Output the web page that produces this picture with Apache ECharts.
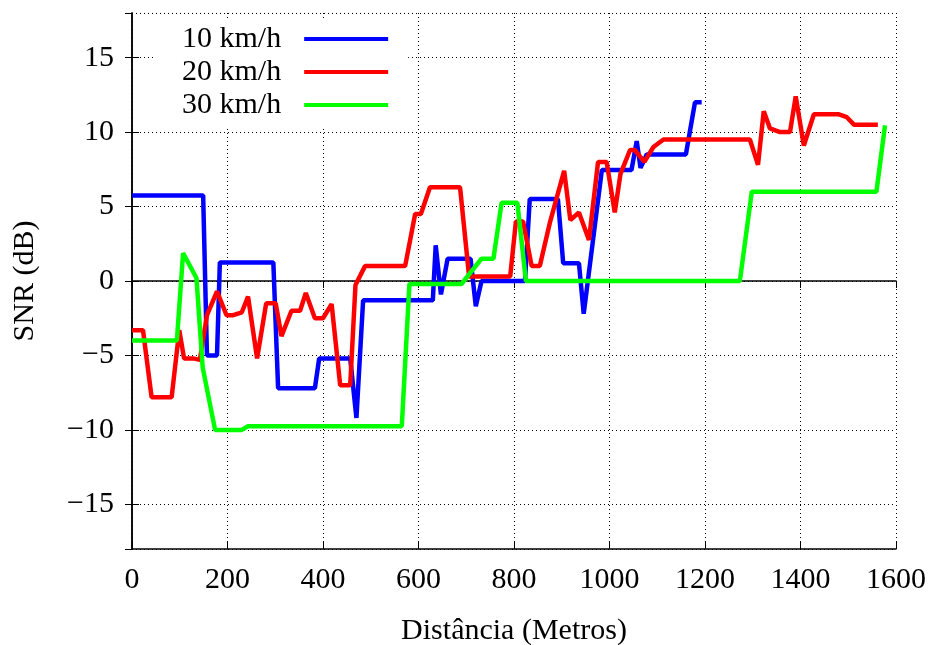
<!DOCTYPE html>
<html lang="pt">
<head>
    <meta charset="UTF-8">
    <title>SNR x distancia</title>
    <script src="https://cdn.jsdelivr.net/npm/echarts@6/dist/echarts.min.js"></script>
    <style>
        html, body { margin: 0; padding: 0; background: #fff; }
        #chart { width: 934px; height: 645px; }
    </style>
</head>
<body>
<div id="chart"></div>
<script type="application/javascript">
    // distancias (m) e SNR (dB) de cada velocidade
    var dist10 = [0, 149, 157, 178, 184, 296, 306, 383, 392, 457, 470, 484, 630, 636, 647, 661, 709, 720, 732, 823, 833, 892, 903, 936, 946, 984, 1046, 1057, 1065, 1078, 1160, 1179, 1193];
    var snr10 = [5.75, 5.75, -5.0, -5.0, 1.25, 1.25, -7.2, -7.2, -5.2, -5.2, -9.2, -1.3, -1.3, 2.4, -0.9, 1.5, 1.5, -1.7, 0, 0, 5.5, 5.5, 1.2, 1.2, -2.2, 7.45, 7.45, 9.4, 7.6, 8.5, 8.5, 12.0, 12.0];

    var dist20 = [0, 23, 41, 83, 99, 109, 128, 142, 157, 178, 198, 212, 230, 243, 262, 281, 301, 313, 334, 352, 364, 383, 400, 418, 436, 457, 468, 488, 572, 593, 605, 624, 687, 706, 792, 804, 819, 837, 854, 875, 905, 918, 936, 957, 976, 994, 1011, 1023, 1043, 1053, 1073, 1092, 1113, 1294, 1311, 1323, 1336, 1357, 1378, 1390, 1407, 1428, 1479, 1497, 1512, 1562];
    var snr20 = [-3.3, -3.3, -7.8, -7.8, -3.3, -5.2, -5.2, -5.3, -2.3, -0.7, -2.3, -2.3, -2.1, -1.05, -5.2, -1.5, -1.5, -3.7, -2.0, -2.0, -0.8, -2.5, -2.5, -1.55, -7.0, -7.0, -0.27, 1.0, 1.0, 4.5, 4.5, 6.3, 6.3, 0.3, 0.3, 4.0, 4.0, 1.0, 1.0, 3.9, 7.4, 4.1, 4.6, 2.75, 8.0, 8.0, 4.6, 7.2, 8.8, 8.8, 8.0, 9.0, 9.5, 9.5, 7.8, 11.4, 10.25, 10.0, 10.0, 12.4, 9.1, 11.2, 11.2, 11.0, 10.5, 10.5];

    var dist30 = [0, 94, 107, 135, 148, 174, 230, 243, 565, 581, 690, 732, 757, 774, 807, 825, 1273, 1298, 1559, 1577];
    var snr30 = [-4.0, -4.0, 1.87, 0.2, -5.8, -10.0, -10.0, -9.75, -9.75, -0.2, -0.2, 1.5, 1.5, 5.25, 5.25, 0, 0, 6.0, 6.0, 10.45];

    var seriesNames = ['10 km/h', '20 km/h', '30 km/h'];
    var seriesColors = ['#0000ff', '#ff0000', '#00ff00'];
    var yTicks = [-15, -10, -5, 0, 5, 10, 15];

    function pairs(xs, ys) {
        var out = [];
        for (var i = 0; i < xs.length; i++) {
            out.push([xs[i], ys[i]]);
        }
        return out;
    }

    var font = 'Liberation Serif';
    var fs = 30;
    var dotted = { show: true, lineStyle: { color: '#000', type: [1, 3], width: 1 } };

    var chart = echarts.init(document.getElementById('chart'));
    var lines = [[dist10, snr10], [dist20, snr20], [dist30, snr30]];
    var series = lines.map(function (d, i) {
        return {
            name: seriesNames[i],
            type: 'line',
            data: pairs(d[0], d[1]),
            showSymbol: false,
            symbol: 'none',
            lineStyle: { color: seriesColors[i], width: 4.5 },
            itemStyle: { color: seriesColors[i] },
            animation: false
        };
    });

    var option = {
        backgroundColor: '#fff',
        animation: false,
        grid: { left: 132, top: 13, right: 38, bottom: 96, containLabel: false, outerBoundsMode: 'none' },
        legend: {
            orient: 'vertical',
            left: 154,
            top: 20,
            align: 'right',
            icon: 'rect',
            itemWidth: 84,
            itemHeight: 4,
            itemGap: 3,
            padding: [4, 20, 6, 28],
            backgroundColor: '#fff',
            data: seriesNames,
            textStyle: { fontFamily: font, fontSize: fs, color: '#000', lineHeight: 30, padding: [0, 18, 0, 0] }
        },
        xAxis: [{
            type: 'value',
            min: 0, max: 1600, interval: 200,
            name: 'Distância (Metros)',
            nameLocation: 'middle',
            nameGap: 67,
            nameTextStyle: { fontFamily: font, fontSize: fs, color: '#000' },
            axisLine: { show: true, onZero: false, lineStyle: { color: '#000', width: 1.5 } },
            axisTick: { show: true, inside: true, length: 7, lineStyle: { color: '#000' } },
            axisLabel: {
                fontFamily: font, fontSize: fs, color: '#000', margin: 16,
                formatter: function (v) { return String(v); }
            },
            splitLine: dotted
        }, {
            type: 'value',
            position: 'top',
            min: 0, max: 1600, interval: 200,
            axisLine: { show: true, lineStyle: { color: '#000', width: 1.5 } },
            axisTick: { show: true, inside: true, length: 7, lineStyle: { color: '#000' } },
            axisLabel: { show: false },
            splitLine: { show: false }
        }],
        yAxis: [{
            type: 'value',
            min: -18, max: 18,
            splitNumber: 7,
            name: 'SNR (dB)',
            nameLocation: 'middle',
            nameGap: 92,
            nameTextStyle: { fontFamily: font, fontSize: fs, color: '#000' },
            axisLine: { show: true, onZero: false, lineStyle: { color: '#000', width: 1.5 } },
            axisTick: { show: true, inside: true, length: 7, lineStyle: { color: '#000' } },
            axisLabel: {
                fontFamily: font, fontSize: fs, color: '#000', margin: 18,
                showMinLabel: false, showMaxLabel: false,
                formatter: function (v) {
                    if (yTicks.indexOf(v) < 0) return '';
                    return v < 0 ? '\u2212' + Math.abs(v) : String(v);
                }
            },
            splitLine: dotted
        }, {
            type: 'value',
            position: 'right',
            min: -18, max: 18,
            splitNumber: 7,
            axisLine: { show: true, lineStyle: { color: '#000', width: 1.5 } },
            axisTick: { show: true, inside: true, length: 7, lineStyle: { color: '#000' } },
            axisLabel: { show: false },
            splitLine: { show: false }
        }],
        series: series
    };
    chart.setOption(option);
</script>
</body>
</html>
